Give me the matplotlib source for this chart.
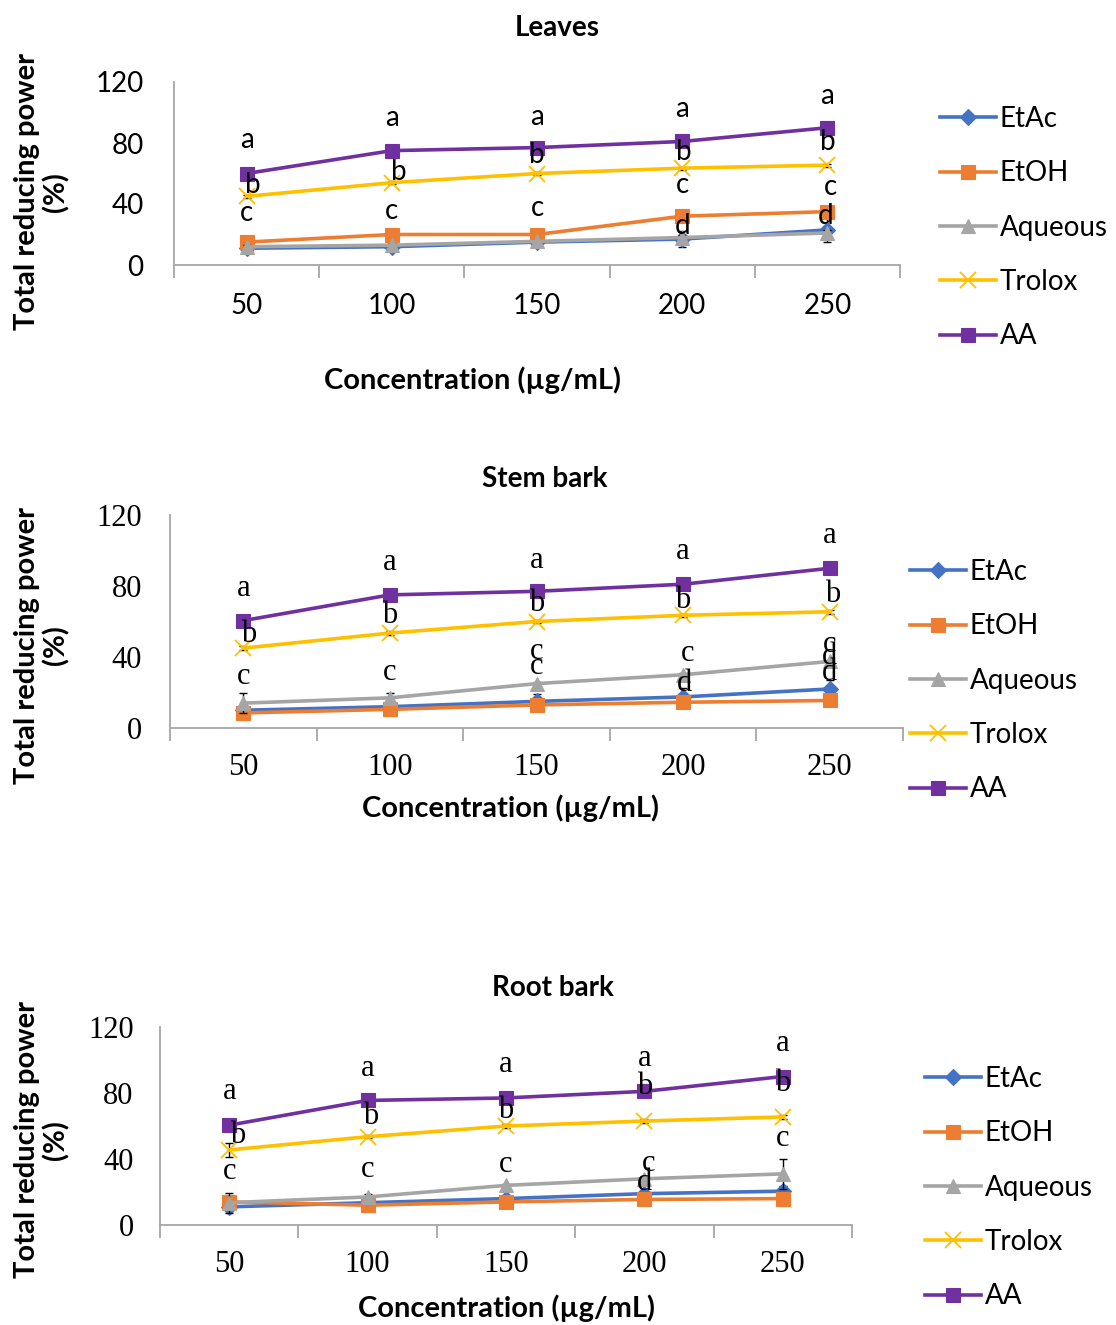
import numpy as np
import matplotlib.pyplot as plt


# =========================
# Data
# =========================

conc_labels = ["50", "100", "150", "200", "250"]
series_names = ["EtAc", "EtOH", "Aqueous", "Trolox", "AA"]

colors = ["#4472C4", "#ED7D31", "#A5A5A5", "#FFC000", "#7030A0"]
markers = ["D", "s", "^", "x", "s"]
marker_sizes = [8, 10, 10, 11, 10]

# Leaves
leaves_etac = [11, 12, 15, 17, 23]
leaves_etoh = [15, 20, 20, 32, 35]
leaves_aqueous = [12, 13, 15.5, 18, 21]
leaves_trolox = [45, 54, 60, 63.5, 65.5]
leaves_aa = [60, 75, 77, 81, 90]
leaves_err = [
    [1, 1, 1, 5, 8],
    [3, 1, 1, 1, 1],
    [1, 1, 1, 2, 2],
    [1, 1, 1, 1, 1],
    [1, 1, 1, 1, 1],
]
# (category index, label height, letter, small sideways nudge)
leaves_letters = [
    (0, 82, "a", 0), (0, 52.5, "b", 0.04), (0, 34, "c", 0),
    (1, 96.5, "a", 0), (1, 61, "b", 0.05), (1, 35.5, "c", 0),
    (2, 97, "a", 0), (2, 72, "b", 0), (2, 37.5, "c", 0),
    (3, 102.5, "a", 0), (3, 74, "b", 0.01), (3, 52.5, "c", 0), (3, 25.5, "d", 0),
    (4, 111, "a", 0), (4, 80.5, "b", 0), (4, 51, "c", 0.02), (4, 32, "d", -0.01),
]

# Stem bark
stem_etac = [10, 12, 15, 17.5, 22]
stem_etoh = [8.5, 10.5, 13, 14.5, 15.5]
stem_aqueous = [14, 17, 25, 30, 37.5]
stem_trolox = [45, 53.5, 60, 63.5, 65.5]
stem_aa = [60.5, 75, 77, 81, 90]
stem_err = [
    [1, 1, 4, 5, 5],
    [1, 1, 1, 1, 1],
    [5.5, 3, 1, 1, 1],
    [1, 1, 1, 1, 1],
    [1, 1, 1, 1, 1],
]
stem_letters = [
    (0, 78.5, "a", 0), (0, 52.5, "b", 0.04), (0, 29, "c", 0),
    (1, 93, "a", 0), (1, 63.5, "b", 0), (1, 31, "c", 0),
    (2, 94.5, "a", 0), (2, 70, "b", 0), (2, 43, "c", 0), (2, 34.5, "c", 0),
    (3, 99.5, "a", 0), (3, 72, "b", 0), (3, 42, "c", 0.03), (3, 25, "d", 0.01),
    (4, 108.5, "a", 0), (4, 75, "b", 0.02), (4, 47, "c", 0), (4, 40, "d", 0),
    (4, 31, "d", 0),
]

# Root bark
root_etac = [11, 13.5, 16, 19, 20.5]
root_etoh = [14, 12, 14, 15.5, 16]
root_aqueous = [13.5, 17, 24, 28, 31]
root_trolox = [45.5, 53.5, 60, 63, 65.5]
root_aa = [60.5, 75.5, 77, 81, 90]
root_err = [
    [1, 1, 1, 1, 3],
    [1, 1, 1, 1, 1],
    [6, 2, 1, 1, 9],
    [4, 1, 1, 1, 1],
    [1, 1, 1, 1, 1],
]
root_letters = [
    (0, 81, "a", 0), (0, 54.5, "b", 0.06), (0, 32.5, "c", 0),
    (1, 95, "a", 0), (1, 65.5, "b", 0.02), (1, 33.5, "c", 0),
    (2, 97, "a", 0), (2, 69.5, "b", 0), (2, 36.5, "c", 0),
    (3, 101, "a", 0), (3, 84, "b", 0), (3, 37.5, "c", 0.03), (3, 25.5, "d", 0),
    (4, 110, "a", 0), (4, 86, "b", 0), (4, 52.5, "c", 0),
]


# =========================
# Layout (pixels on a 1116 x 1325 canvas)
# =========================

FIG_W = 1116
FIG_H = 1325
DPI = 100

SANS = "Lato"
SERIF = "Liberation Serif"


def px_rect(left, top, right, bottom):
    return [left / FIG_W, 1 - bottom / FIG_H,
            (right - left) / FIG_W, (bottom - top) / FIG_H]


def draw_panel(fig, rect, values, errors, letters, title, title_xy,
               xlabel_xy, ylabel_y, tick_font, tick_size, letter_size,
               xpad, ypad, legend_xy):
    ax = fig.add_axes(px_rect(*rect))
    x = np.arange(1, len(conc_labels) + 1)

    handles = []
    for i, name in enumerate(series_names):
        ax.errorbar(x, values[i], yerr=errors[i], fmt="none",
                    ecolor="black", elinewidth=1, capsize=3, capthick=1,
                    zorder=2 + i)
        line, = ax.plot(x, values[i], color=colors[i], linewidth=2.6,
                        marker=markers[i], markersize=marker_sizes[i],
                        markeredgewidth=1.3 if markers[i] == "x" else 0.8,
                        markeredgecolor=colors[i], label=name,
                        zorder=3 + i)
        handles.append(line)

    for idx, yv, txt, dx in letters:
        ax.text(x[idx] + dx, yv, txt, ha="center", va="center",
                fontsize=letter_size, family=tick_font, zorder=20)

    ax.set_xlim(0.5, len(conc_labels) + 0.5)
    ax.set_ylim(0, 120)
    ax.set_yticks([0, 40, 80, 120])
    ax.set_xticks(x)
    ax.set_xticklabels(conc_labels)
    ax.set_xticks(np.arange(0.5, len(conc_labels) + 1, 1), minor=True)

    ax.tick_params(axis="x", which="major", length=0, pad=xpad,
                   labelsize=tick_size)
    ax.tick_params(axis="x", which="minor", length=9, width=1.3,
                   color="#A6A6A6", direction="out")
    ax.tick_params(axis="y", length=0, pad=ypad, labelsize=tick_size)
    for lab in ax.get_xticklabels() + ax.get_yticklabels():
        lab.set_family(tick_font)

    for side in ["top", "right"]:
        ax.spines[side].set_visible(False)
    for side in ["left", "bottom"]:
        ax.spines[side].set_color("#A6A6A6")
        ax.spines[side].set_linewidth(1.3)
    ax.patch.set_alpha(0)

    fig.text(title_xy[0] / FIG_W, 1 - title_xy[1] / FIG_H, title,
             ha="center", va="center", fontsize=20, fontweight="bold",
             family=SANS)
    fig.text(xlabel_xy[0] / FIG_W, 1 - xlabel_xy[1] / FIG_H,
             "Concentration (µg/mL)", ha="center", va="center",
             fontsize=21, fontweight="bold", family=SANS)
    fig.text(42 / FIG_W, 1 - ylabel_y / FIG_H, "Total reducing power\n(%)",
             ha="center", va="center", rotation=90, fontsize=21,
             fontweight="bold", family=SANS, linespacing=1.1)

    # legend, drawn to the right of the plot area
    lx, ly = legend_xy
    fig.legend(handles=handles, loc="upper left",
               bbox_to_anchor=(lx / FIG_W, 1 - ly / FIG_H),
               frameon=False, prop={"family": SANS, "size": 20},
               handlelength=2.0, handletextpad=0.15, labelspacing=1.02,
               borderpad=0, borderaxespad=0)
    return ax


fig = plt.figure(figsize=(FIG_W / DPI, FIG_H / DPI), dpi=DPI)

draw_panel(fig, (174, 82, 900, 265),
           [leaves_etac, leaves_etoh, leaves_aqueous, leaves_trolox, leaves_aa],
           leaves_err, leaves_letters, "Leaves", (557, 28), (473, 380), 192,
           SANS, 20, 20, 20, 22, (940, 106))

draw_panel(fig, (170, 515, 903, 728),
           [stem_etac, stem_etoh, stem_aqueous, stem_trolox, stem_aa],
           stem_err, stem_letters, "Stem bark", (545, 479), (510, 808), 645,
           SERIF, 22, 22, 18, 20, (910, 559))

draw_panel(fig, (160, 1027, 852, 1225),
           [root_etac, root_etoh, root_aqueous, root_trolox, root_aa],
           root_err, root_letters, "Root bark", (553, 988), (506, 1308), 1140,
           SERIF, 22, 22, 18, 19, (925, 1066))

fig.savefig("out.png", dpi=DPI)
